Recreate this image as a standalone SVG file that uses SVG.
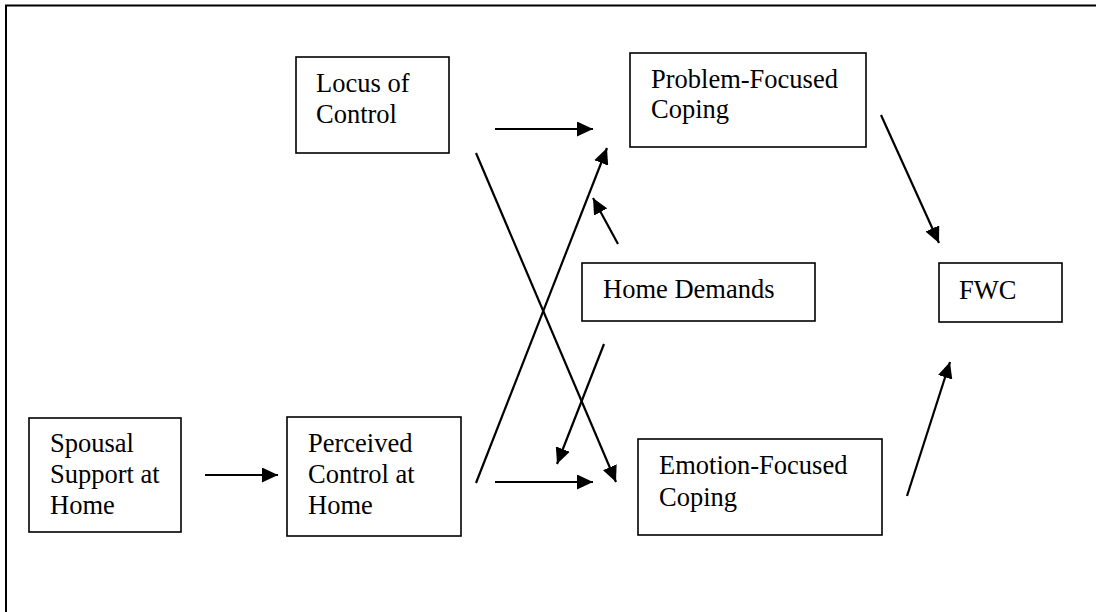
<svg xmlns="http://www.w3.org/2000/svg" width="1096" height="612" viewBox="0 0 1096 612">
<style>
.box{fill:#fff;stroke:#000;stroke-width:1.6}
.lbl{font-family:"Liberation Serif","Times New Roman",serif;font-size:26.5px;fill:#000}
.conn{stroke:#000;stroke-width:2.2;fill:none}
</style>
<defs>
<marker id="ah" markerUnits="userSpaceOnUse" markerWidth="17" markerHeight="15" refX="16" refY="7.5" orient="auto">
<path d="M0,0 L16,7.5 L0,15 z" fill="#000"/>
</marker>
</defs>
<rect width="1096" height="612" fill="#fff"/>
<path d="M6,620 V5.5 H1100" fill="none" stroke="#000" stroke-width="2"/>
<g id="locus">
<rect class="box" x="296" y="57" width="153" height="96"/>
<text class="lbl" x="316" y="92">Locus of</text>
<text class="lbl" x="316" y="123">Control</text>
</g>
<g id="problem">
<rect class="box" x="630" y="53" width="236" height="94"/>
<text class="lbl" x="651" y="88">Problem-Focused</text>
<text class="lbl" x="651" y="118">Coping</text>
</g>
<g id="home">
<rect class="box" x="582" y="263" width="233" height="58"/>
<text class="lbl" x="603" y="298">Home Demands</text>
</g>
<g id="fwc">
<rect class="box" x="939" y="263" width="123" height="59"/>
<text class="lbl" x="959" y="299">FWC</text>
</g>
<g id="spousal">
<rect class="box" x="29" y="418" width="152" height="114"/>
<text class="lbl" x="50" y="452">Spousal</text>
<text class="lbl" x="50" y="483">Support at</text>
<text class="lbl" x="50" y="514">Home</text>
</g>
<g id="perceived">
<rect class="box" x="287" y="417" width="174" height="119"/>
<text class="lbl" x="308" y="452">Perceived</text>
<text class="lbl" x="308" y="483">Control at</text>
<text class="lbl" x="308" y="514">Home</text>
</g>
<g id="emotion">
<rect class="box" x="638" y="439" width="244" height="96"/>
<text class="lbl" x="659" y="474">Emotion-Focused</text>
<text class="lbl" x="659" y="506">Coping</text>
</g>
<g id="connectors">
<line class="conn" x1="495" y1="129" x2="593" y2="129" marker-end="url(#ah)"/>
<line class="conn" x1="476" y1="153" x2="616" y2="482" marker-end="url(#ah)"/>
<line class="conn" x1="476" y1="483" x2="607" y2="148" marker-end="url(#ah)"/>
<line class="conn" x1="618" y1="244" x2="593" y2="198" marker-end="url(#ah)"/>
<line class="conn" x1="604" y1="344" x2="557" y2="464" marker-end="url(#ah)"/>
<line class="conn" x1="495" y1="482" x2="593" y2="482" marker-end="url(#ah)"/>
<line class="conn" x1="205" y1="475" x2="278" y2="475" marker-end="url(#ah)"/>
<line class="conn" x1="881" y1="115" x2="939" y2="243" marker-end="url(#ah)"/>
<line class="conn" x1="907" y1="496" x2="950" y2="362" marker-end="url(#ah)"/>
</g>
</svg>
